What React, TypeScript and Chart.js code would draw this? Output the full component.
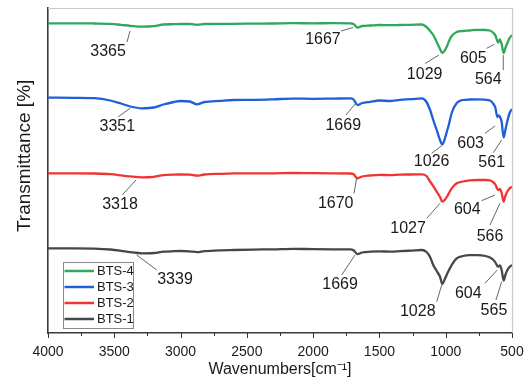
import React, { useEffect, useRef } from 'react';
import { Chart, registerables } from 'chart.js';

Chart.register(...registerables);

// Wavenumber grid (cm-1), shared by all spectra
const wavenumbers = [
  4000, 3800, 3650, 3530, 3450, 3380, 3290, 3200, 3130, 3050,
  3000, 2930, 2876, 2820, 2700, 2600, 2450, 2300, 2150, 2000,
  1850, 1720, 1695, 1665, 1630, 1570, 1500, 1420, 1345, 1260,
  1180, 1145, 1118, 1094, 1068, 1043, 1026, 1005, 990, 975,
  955, 917, 870, 820, 760, 700, 666, 640, 625, 611,
  603, 592, 578, 563, 550, 535, 518, 500,
];

// Offset transmittance (arbitrary units, stacked spectra)
const bts4 = [
  309.7, 309.7, 309.5, 309.2, 308.2, 307.2, 306.3, 306.8, 308.5, 308.8,
  309.0, 309.0, 308.2, 309.0, 309.2, 309.2, 309.4, 309.5, 309.8, 309.7,
  309.8, 309.7, 309.0, 305.5, 307.0, 307.5, 308.0, 307.8, 308.0, 308.2,
  308.5, 306, 302, 298, 291, 284, 280, 283, 287, 292,
  297, 301, 302, 302.5, 303.2, 303, 302.5, 300, 297.5, 292,
  290.5, 293.5, 289, 280, 285, 290, 295, 298,
];
const bts3 = [
  235.3, 235.2, 234.8, 232.5, 229.5, 226.5, 224.7, 225.5, 228.5, 231,
  232, 231.5, 228.7, 231, 232.2, 233, 233.2, 233.7, 234.4, 234.2,
  234.4, 234.6, 233.5, 228, 230, 231.2, 232.5, 232, 233.2, 233.8,
  234.7, 231, 223, 213, 203, 193, 188.5, 195, 202, 209,
  220, 230, 233, 233.5, 233.7, 233.2, 232.5, 229, 225, 216,
  217.5, 216.5, 211, 195.5, 203, 212, 220, 224,
];
const bts2 = [
  159.7, 159.7, 159.5, 158.8, 157.7, 156.6, 155.7, 156.2, 157.8, 158.4,
  158.5, 158.4, 157.4, 158.5, 159.2, 159.6, 159.7, 159.7, 160.0, 159.8,
  159.7, 159.5, 158.7, 154.7, 156.5, 157.5, 158.2, 157.8, 158.4, 158.5,
  158.7, 157, 151.5, 147, 141.3, 136, 131.3, 133.5, 136.5, 140,
  144.7, 149.7, 151.5, 152.7, 153, 153, 152.7, 150.5, 148.5, 144,
  143, 144, 140, 131.3, 137, 141.5, 144.5, 146.3,
];
const bts1 = [
  84.7, 84.7, 84.4, 83.5, 82.2, 80.8, 79.7, 80, 81.3, 81.8,
  82, 81.7, 80.8, 81.8, 82.7, 83, 83.4, 83.7, 84.2, 83.8,
  83.7, 83.7, 82.7, 78.8, 80.5, 81.3, 81.6, 81.4, 81.8, 82.4,
  83, 81, 76, 68, 62, 56.3, 49, 54.5, 59, 63,
  68, 74.7, 77, 77.8, 77.8, 77, 75.5, 73, 70.5, 67,
  66.5, 67.5, 63, 52.5, 58, 63, 66, 68,
];

const seriesNames = ['BTS-4', 'BTS-3', 'BTS-2', 'BTS-1'];
const seriesValues = [bts4, bts3, bts2, bts1];
const seriesColors = ['#2fa85c', '#1f5fd8', '#ef3434', '#474747'];

const xMin = 500;
const xMax = 4000;
const xMajorStep = 500;
const xMinorStep = 250;
const yMin = 0;
const yMax = 325;

// Peak labels: text, leader line start/end and label centre, all in data units [wavenumber, value]
type Ann = { text: string; from: [number, number]; to: [number, number]; at: [number, number] };
const annotations: Ann[] = [
  { text: '3365', from: [3381, 302], to: [3404, 291], at: [3547, 281] },
  { text: '1667', from: [1699, 305.5], to: [1790, 302], at: [1926, 293] },
  { text: '1029', from: [1051, 278], to: [1156, 269.5], at: [1159, 258] },
  { text: '605', from: [633, 288.7], to: [691, 284.7], at: [792, 274.7] },
  { text: '564', from: [566, 278], to: [566, 263], at: [679, 253] },

  { text: '3351', from: [3381, 224.7], to: [3470, 216.3], at: [3477, 206.3] },
  { text: '1669', from: [1684, 229], to: [1752, 218], at: [1773, 207] },
  { text: '1026', from: [1030, 187.3], to: [1106, 179.7], at: [1106, 171.3] },
  { text: '603', from: [628, 207], to: [704, 199.7], at: [812, 189.7] },
  { text: '561', from: [578, 193], to: [641, 180.3], at: [653, 170.7] },

  { text: '3318', from: [3336, 153], to: [3440, 138], at: [3457, 128] },
  { text: '1670', from: [1672, 154.7], to: [1692, 139.7], at: [1830, 129.7] },
  { text: '1027', from: [1043, 129.7], to: [1143, 114.7], at: [1284, 104.7] },
  { text: '604', from: [628, 138], to: [729, 132.3], at: [837, 123] },
  { text: '566', from: [591, 129.7], to: [666, 108], at: [666, 96.3] },

  { text: '3339', from: [3331, 78], to: [3180, 63], at: [3042, 53] },
  { text: '1669', from: [1684, 78], to: [1785, 58], at: [1797, 48] },
  { text: '1028', from: [1030, 48], to: [1068, 31.3], at: [1211, 21.3] },
  { text: '604', from: [611, 63], to: [704, 49.7], at: [830, 39.7] },
  { text: '565', from: [578, 51.3], to: [621, 33], at: [636, 22.3] },
];

const FONT = '"Liberation Sans", Arial, Helvetica, sans-serif';

const decorPlugin = {
  id: 'decor',
  afterDatasetsDraw(chart: any) {
    const { ctx, scales } = chart;
    const xs = scales.x;
    const ys = scales.y;
    ctx.save();
    // leader lines
    ctx.strokeStyle = '#555';
    ctx.lineWidth = 0.9;
    annotations.forEach((a) => {
      ctx.beginPath();
      ctx.moveTo(xs.getPixelForValue(a.from[0]), ys.getPixelForValue(a.from[1]));
      ctx.lineTo(xs.getPixelForValue(a.to[0]), ys.getPixelForValue(a.to[1]));
      ctx.stroke();
    });
    ctx.fillStyle = '#1a1a1a';
    ctx.font = `16px ${FONT}`;
    ctx.textAlign = 'center';
    ctx.textBaseline = 'middle';
    annotations.forEach((a) => {
      ctx.fillText(a.text, xs.getPixelForValue(a.at[0]), ys.getPixelForValue(a.at[1]));
    });
    ctx.restore();
  },
  afterDraw(chart: any) {
    const { ctx, chartArea: area, scales } = chart;
    const xs = scales.x;
    ctx.save();
    // light top/right frame
    ctx.strokeStyle = '#c9c9c9';
    ctx.lineWidth = 1.2;
    ctx.beginPath();
    ctx.moveTo(area.left, area.top + 0.5);
    ctx.lineTo(area.right + 0.5, area.top + 0.5);
    ctx.lineTo(area.right + 0.5, area.bottom);
    ctx.stroke();
    // ticks on the x axis (major and minor, pointing down)
    ctx.strokeStyle = '#333';
    ctx.lineWidth = 1;
    for (let v = xMin; v <= xMax; v += xMinorStep) {
      const px = Math.round(xs.getPixelForValue(v)) + 0.5;
      const major = v % xMajorStep === 0;
      ctx.beginPath();
      ctx.moveTo(px, area.bottom);
      ctx.lineTo(px, area.bottom + (major ? 5 : 3));
      ctx.stroke();
    }
    // y axis title
    ctx.fillStyle = '#1a1a1a';
    ctx.font = `19px ${FONT}`;
    ctx.textAlign = 'center';
    ctx.textBaseline = 'middle';
    ctx.translate(25, area.top + (area.bottom - area.top) * 0.455);
    ctx.rotate(-Math.PI / 2);
    ctx.fillText('Transmittance [%]', 0, 0);
    ctx.restore();

    // legend box
    ctx.save();
    const lx = area.left + 15;
    const lw = 70;
    const rowH = 16;
    const lh = rowH * seriesNames.length + 2;
    const ly = area.bottom - 5 - lh;
    ctx.fillStyle = '#fff';
    ctx.fillRect(lx, ly, lw, lh);
    ctx.strokeStyle = '#8a8a8a';
    ctx.lineWidth = 1;
    ctx.strokeRect(lx + 0.5, ly + 0.5, lw, lh);
    ctx.font = `13px ${FONT}`;
    ctx.textAlign = 'left';
    ctx.textBaseline = 'middle';
    seriesNames.forEach((name, i) => {
      const cy = ly + 9 + i * rowH;
      ctx.strokeStyle = seriesColors[i];
      ctx.lineWidth = 2.5;
      ctx.beginPath();
      ctx.moveTo(lx + 1.5, cy);
      ctx.lineTo(lx + 31, cy);
      ctx.stroke();
      ctx.fillStyle = '#1a1a1a';
      ctx.fillText(name, lx + 34, cy + 0.5);
    });
    ctx.restore();
  },
};

export default function App() {
  const canvasRef = useRef<HTMLCanvasElement | null>(null);

  useEffect(() => {
    const canvas = canvasRef.current;
    if (!canvas) return;
    Chart.defaults.font.family = FONT;
    const chart = new Chart(canvas, {
      type: 'line',
      data: {
        datasets: seriesNames.map((name, i) => ({
          label: name,
          data: wavenumbers.map((w, j) => ({ x: w, y: seriesValues[i][j] })),
          borderColor: seriesColors[i],
          backgroundColor: seriesColors[i],
          borderWidth: 2.3,
          pointRadius: 0,
          cubicInterpolationMode: 'monotone' as const,
          fill: false,
        })),
      },
      options: {
        responsive: false,
        animation: false,
        devicePixelRatio: 1,
        layout: { padding: { left: 0, right: 19, top: 8, bottom: 0 } },
        plugins: {
          legend: { display: false },
          tooltip: { enabled: false },
        },
        scales: {
          x: {
            type: 'linear',
            reverse: true,
            min: xMin,
            max: xMax,
            grid: { display: false, drawTicks: false },
            border: { display: true, color: '#3a3a3a', width: 1.6 },
            ticks: {
              stepSize: xMajorStep,
              color: '#1a1a1a',
              font: { size: 14 },
              padding: 11,
              maxRotation: 0,
              autoSkip: false,
              callback: (v: any) => String(v),
            },
            title: {
              display: true,
              text: 'Wavenumbers[cm⁻¹]',
              color: '#1a1a1a',
              font: { size: 16 },
              padding: { top: 0, bottom: 9 },
            },
            afterFit: (s: any) => {
              s.height = 55;
              s.paddingLeft = 0;
              s.paddingRight = 0;
            },
          },
          y: {
            type: 'linear',
            min: yMin,
            max: yMax,
            grid: { display: false, drawTicks: false },
            border: { display: true, color: '#3a3a3a', width: 1.6 },
            ticks: { display: false },
            afterFit: (s: any) => {
              s.width = 48;
              s.paddingTop = 0;
              s.paddingBottom = 0;
            },
          },
        },
      },
      plugins: [decorPlugin],
    });
    return () => chart.destroy();
  }, []);

  return (
    <div style={{ position: 'fixed', left: 0, top: 0, width: 531, height: 388, background: '#fff' }}>
      <canvas ref={canvasRef} width={531} height={388} style={{ display: 'block' }} />
    </div>
  );
}
